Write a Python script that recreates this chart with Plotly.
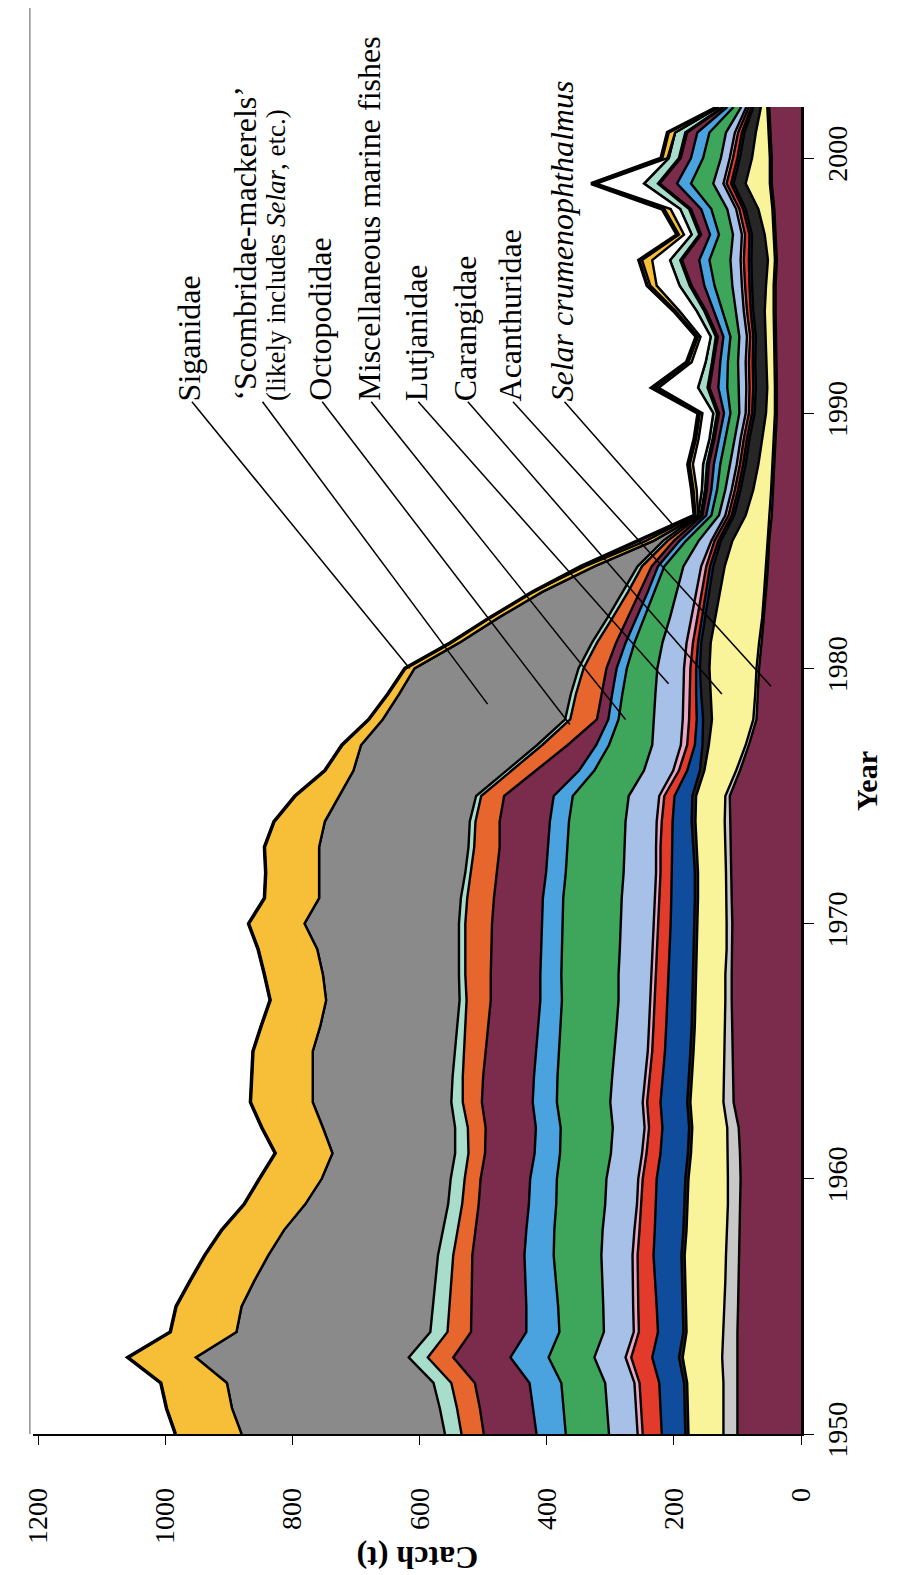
import numpy as np
import plotly.graph_objects as go

years = list(range(1950, 2003))

# Catch (t) by group, bottom of the stack first (1950 ... 2002)
acanthuridae = [100,100,100,101,100,99,98,97,96,95,
                95,96,98,106,107,108,108,109,109,108,
                108,109,110,111,112,112,96,82,70,68,
                66,62,58,55,52,50,46,44,42,40,
                38,38,39,40,40,40,38,40,42,46,
                46,48,50]
other_grey = [22,22,22,23,22,22,21,21,20,20,
              20,19,18,16,14,12,11,10,10,9,
              9,8,8,8,8,7,6,5,5,4,
              4,4,3,3,3,3,3,3,3,3,
              3,3,3,3,3,3,3,3,3,3,
              3,3,3]
carangidae = [55,56,57,62,58,60,63,65,64,63,
              62,58,55,52,50,49,48,47,46,46,
              45,45,44,45,46,46,50,58,65,70,
              74,76,74,70,65,55,38,28,22,18,
              14,12,12,12,14,12,11,14,22,38,
              28,20,10]
other_black = [5,5,5,6,5,5,5,5,5,5,
               5,5,5,5,5,5,5,5,5,5,
               5,5,5,5,6,6,7,10,14,15,
               15,15,16,17,18,18,18,20,20,20,
               18,18,18,16,18,22,26,20,20,19,
               19,18,12]
other_navy = [37,38,39,42,40,41,43,44,45,45,
              45,43,42,42,41,40,40,39,39,38,
              38,37,36,34,30,28,20,12,10,8,
              6,5,5,5,5,4,4,4,4,4,
              4,4,4,4,4,4,4,4,4,4,
              4,4,3]
other_red = [30,30,31,33,30,29,27,25,24,23,
             22,22,21,21,21,20,20,20,20,20,
             20,19,18,18,17,16,13,12,12,10,
             9,8,7,7,6,6,5,5,5,5,
             5,6,6,5,6,7,8,7,6,7,
             7,6,4]
other_pink = [8,8,8,9,8,8,8,8,8,7,
              7,7,7,7,7,7,7,7,7,7,
              7,7,7,7,8,8,9,10,10,10,
              10,10,9,8,8,5,5,5,5,5,
              5,5,5,5,5,5,5,5,5,5,
              5,5,4]
lutjanidae = [45,46,46,49,47,47,48,49,50,50,
              50,49,50,51,52,52,51,50,51,52,
              52,52,51,50,49,48,46,45,46,44,
              42,38,34,31,28,20,10,10,11,10,
              10,12,12,12,13,15,16,14,14,16,
              14,14,8]
misc_marine = [68,68,69,72,70,71,73,75,76,77,
               78,80,82,84,86,88,88,89,90,91,
               92,92,91,90,89,88,78,68,55,52,
               48,44,40,35,30,20,12,13,15,14,
               14,18,16,14,20,28,33,22,25,35,
               28,26,12]
other_sky = [46,48,50,60,52,50,48,46,44,43,
             42,40,39,38,37,36,35,34,33,33,
             32,32,31,30,30,30,24,20,16,16,
             16,14,12,10,10,10,8,9,10,10,
             10,14,12,11,14,16,16,14,16,22,
             19,19,10]
other_maroon = [83,84,86,90,87,86,84,82,80,79,
                78,78,79,80,80,79,79,78,78,78,
                78,77,77,76,79,78,68,45,18,17,
                16,15,14,12,10,9,6,7,8,7,
                8,14,10,9,12,20,27,14,16,27,
                16,16,5]
octopodidae = [35,36,37,40,37,35,32,30,28,26,
               25,26,28,30,32,34,36,38,40,41,
               42,42,41,40,38,36,38,40,42,40,
               36,30,24,19,15,10,3,3,3,3,
               3,3,3,3,3,3,3,3,3,3,
               3,3,2]
other_teal = [26,27,28,30,27,26,25,24,23,22,
              22,21,20,18,16,14,12,11,10,10,
              10,10,9,9,9,8,8,8,8,8,
              8,8,8,8,7,7,4,5,6,5,
              6,15,10,8,12,16,16,12,14,22,
              16,16,6]
scombridae = [320,327,325,335,305,301,285,267,250,225,
              203,193,208,218,220,224,216,210,214,223,
              243,223,230,235,228,215,241,277,287,270,
              258,209,171,127,68,15,0,0,0,0,
              0,0,0,0,0,0,0,0,0,0,
              0,0,0]
other_white = [0,0,0,0,0,0,0,0,0,0,
               0,0,0,0,0,0,0,0,0,0,
               0,0,0,0,0,0,0,0,0,0,
               0,0,0,0,0,0,0,8,16,17,
               17,62,22,16,27,36,28,12,15,75,
               2,0,0]
siganidae = [104,103,104,107,104,103,101,100,98,96,
             98,90,96,98,96,94,93,88,92,93,
             88,86,84,86,80,70,45,30,22,18,
             15,14,14,15,15,12,4,5,5,4,
             4,6,5,4,6,10,16,8,10,4,
             8,10,3]
selar = [0,0,0,0,0,0,0,0,0,0,
         0,0,0,0,0,0,0,0,0,0,
         0,0,0,0,0,0,0,0,0,0,
         0,0,0,0,6,14,2,3,3,3,
         3,5,3,3,3,5,5,3,3,4,
         2,2,0]

layers = [
    ("Acanthuridae", acanthuridae, "#7B2B4C"),
    ("Other (grey)", other_grey, "#C8C8C8"),
    ("Carangidae", carangidae, "#F9F49A"),
    ("Other (black)", other_black, "#262626"),
    ("Other (navy)", other_navy, "#0F4C9C"),
    ("Other (red)", other_red, "#E23A2B"),
    ("Other (pink)", other_pink, "#EBA6C5"),
    ("Lutjanidae", lutjanidae, "#A6C0E8"),
    ("Miscellaneous marine fishes", misc_marine, "#3EA65A"),
    ("Other (sky blue)", other_sky, "#4AA3DF"),
    ("Other (maroon)", other_maroon, "#7B2B4C"),
    ("Octopodidae", octopodidae, "#E7662D"),
    ("Other (teal)", other_teal, "#A8DCCB"),
    ("Scombridae-mackerels", scombridae, "#8A8A8A"),
    ("Other (white)", other_white, "#FFFFFF"),
    ("Siganidae", siganidae, "#F7BE38"),
    ("Selar crumenophthalmus", selar, "#F09DC8"),
]

fig = go.Figure()
n_layers = len(layers)
for k, (name, vals, col) in enumerate(layers):
    fig.add_trace(go.Scatter(
        x=vals, y=years, name=name, stackgroup="catch", orientation="h",
        mode="lines",
        line=dict(color="black", width=3.5 if k == n_layers - 1 else 2.4),
        fillcolor=col, showlegend=False, hoverinfo="x+y+name"))

# cumulative positions for leader-line targets
arr = np.array([v for _, v, _ in layers], dtype=float)
cum = np.cumsum(arr, axis=0)
idx = {n: i for i, (n, _, _) in enumerate(layers)}

def layer_point(name, yr, frac):
    i = idx[name]
    base = cum[i - 1] if i > 0 else np.zeros(len(years))
    return float(np.interp(yr, years, base) + frac * np.interp(yr, years, arr[i]))

# label anchor positions (catch, year) and leader targets (layer, year, fraction)
label_font = "Liberation Serif"
labels = [
    ("Siganidae", "Siganidae", 962, 1980.0, 0.5),
    ("‘Scombridae-mackerels’", "Scombridae-mackerels", 876, 1978.6, 0.46),
    ("Octopodidae", "Octopodidae", 757, 1977.8, 0.8),
    ("Miscellaneous marine fishes", "Miscellaneous marine fishes", 680, 1978.0, 0.8),
    ("Lutjanidae", "Lutjanidae", 606, 1979.4, 0.55),
    ("Carangidae", "Carangidae", 528, 1979.0, 0.75),
    ("Acanthuridae", "Acanthuridae", 457, 1979.3, 0.7),
    ("<i>Selar crumenophthalmus</i>", "Selar crumenophthalmus", 376, 1985.6, 0.5),
]
label_base_year = 1990.4
leader_start_year = 1990.45
leader_start_shift = {"Scombridae-mackerels": -25}

annotations = []
for text, layer, c, yr, frac in labels:
    annotations.append(dict(
        x=c, y=label_base_year, xref="x", yref="y", text=text, showarrow=False,
        textangle=-90, xanchor="center", yanchor="bottom",
        font=dict(family=label_font, size=32, color="black")))
    sx = c - 4 + leader_start_shift.get(layer, 0)
    ex = layer_point(layer, yr, frac)
    fig.add_trace(go.Scatter(
        x=[sx, ex], y=[leader_start_year, yr], mode="lines",
        line=dict(color="black", width=1.5), showlegend=False, hoverinfo="skip"))

annotations.append(dict(
    x=826, y=label_base_year, xref="x", yref="y",
    text="(likely includes <i>Selar</i>, etc.)", showarrow=False,
    textangle=-90, xanchor="center", yanchor="bottom",
    font=dict(family=label_font, size=27, color="black")))

# axis titles (rotated with the page)
annotations.append(dict(
    x=1.085, y=1975.6, xref="paper", yref="y", text="<b>Year</b>", showarrow=False,
    textangle=-90, xanchor="center", yanchor="middle",
    font=dict(family=label_font, size=30, color="black")))
annotations.append(dict(
    x=603, y=-0.094, xref="x", yref="paper", text="<b>Catch (t)</b>", showarrow=False,
    textangle=180, xanchor="center", yanchor="middle",
    font=dict(family=label_font, size=32, color="black")))

fig.update_layout(
    width=922, height=1575, autosize=False,
    margin=dict(l=25, r=129, t=99, b=149),
    paper_bgcolor="white", plot_bgcolor="white",
    annotations=annotations,
    shapes=[dict(type="line", xref="paper", yref="paper", x0=-0.004, x1=-0.004,
                 y0=0, y1=1.0746, line=dict(color="#555555", width=1))],
)
fig.update_xaxes(
    range=[1208, 0], showgrid=False, zeroline=False,
    showline=True, linecolor="black", linewidth=1.5,
    ticks="outside", ticklen=9, tickwidth=1.2, tickcolor="black",
    tickvals=[0, 200, 400, 600, 800, 1000, 1200], tickangle=-90,
    tickfont=dict(family=label_font, size=28, color="black"),
    ticklabelstandoff=32)
fig.update_yaxes(
    range=[1950, 2002], side="right", showgrid=False, zeroline=False,
    showline=True, linecolor="black", linewidth=2.5,
    ticks="outside", ticklen=10, tickwidth=1.2, tickcolor="black",
    tickvals=[1950, 1960, 1970, 1980, 1990, 2000], tickangle=-90,
    tickfont=dict(family=label_font, size=28, color="black"))

fig.write_html("out.html")
